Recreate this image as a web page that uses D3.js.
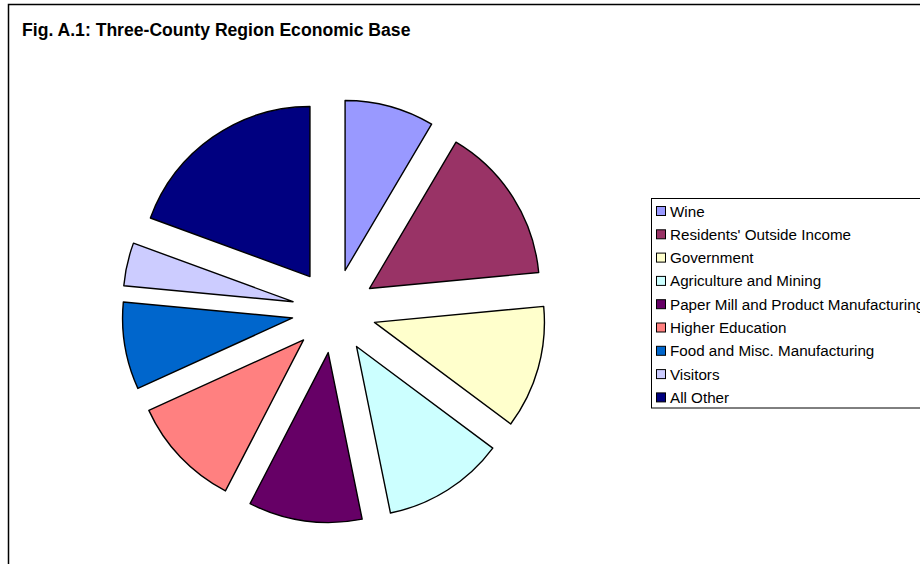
<!DOCTYPE html>
<html>
<head>
<meta charset="utf-8">
<script src="https://cdn.jsdelivr.net/npm/d3@7/dist/d3.min.js"></script>
<style>
  html, body { margin: 0; padding: 0; background: #fff; }
  svg { display: block; }
</style>
</head>
<body>
<svg id="chart" width="920" height="564"></svg>
<script>
const categories = ["Wine", "Residents' Outside Income", "Government", "Agriculture and Mining",
  "Paper Mill and Product Manufacturing", "Higher Education", "Food and Misc. Manufacturing",
  "Visitors", "All Other"];
const values = [8.5, 15.0, 11.7, 11.6, 10.8, 10.6, 8.3, 4.1, 19.4];
const colors = ["#9999FF", "#993366", "#FFFFCC", "#CCFFFF", "#660066", "#FF8080", "#0066CC", "#CCCCFF", "#000080"];
const title = "Fig. A.1: Three-County Region Economic Base";

const svg = d3.select("#chart");
const font = "'Liberation Sans', Arial, sans-serif";

// outer frame
svg.append("rect").attr("x", 8.5).attr("y", 4.5).attr("width", 930).attr("height", 580)
  .attr("fill", "#fff").attr("stroke", "#000").attr("stroke-width", 1.5);

svg.append("text").attr("x", 22).attr("y", 36).text(title)
  .attr("font-family", font).attr("font-weight", "bold").attr("font-size", 17.6).attr("fill", "#000");

const data = categories.map((c, i) => ({ name: c, value: values[i], color: colors[i] }));
const pie = d3.pie().sort(null).value(d => d.value);
const r = 170, explode = 42;
const arc = d3.arc().innerRadius(0).outerRadius(r);
const g = svg.append("g").attr("transform", "translate(334,311)");
g.selectAll("path").data(pie(data)).join("path")
  .attr("d", arc)
  .attr("transform", d => {
    const m = (d.startAngle + d.endAngle) / 2;
    return `translate(${explode * Math.sin(m)},${-explode * Math.cos(m)})`;
  })
  .attr("fill", d => d.data.color)
  .attr("stroke", "#000").attr("stroke-width", 1.4).attr("stroke-linejoin", "round");

// legend
const lg = svg.append("g");
lg.append("rect").attr("x", 651.5).attr("y", 198.5).attr("width", 300).attr("height", 209.5)
  .attr("fill", "#fff").attr("stroke", "#000").attr("stroke-width", 1);
const items = lg.selectAll("g.item").data(data).join("g").attr("class", "item")
  .attr("transform", (d, i) => `translate(0,${211 + i * 23.3})`);
items.append("rect").attr("x", 656.5).attr("y", -4.5).attr("width", 9).attr("height", 9)
  .attr("fill", d => d.color).attr("stroke", "#000").attr("stroke-width", 1);
items.append("text").attr("x", 670).attr("y", 5.5).text(d => d.name)
  .attr("font-family", font).attr("font-size", 15.2).attr("fill", "#000");
</script>
</body>
</html>
